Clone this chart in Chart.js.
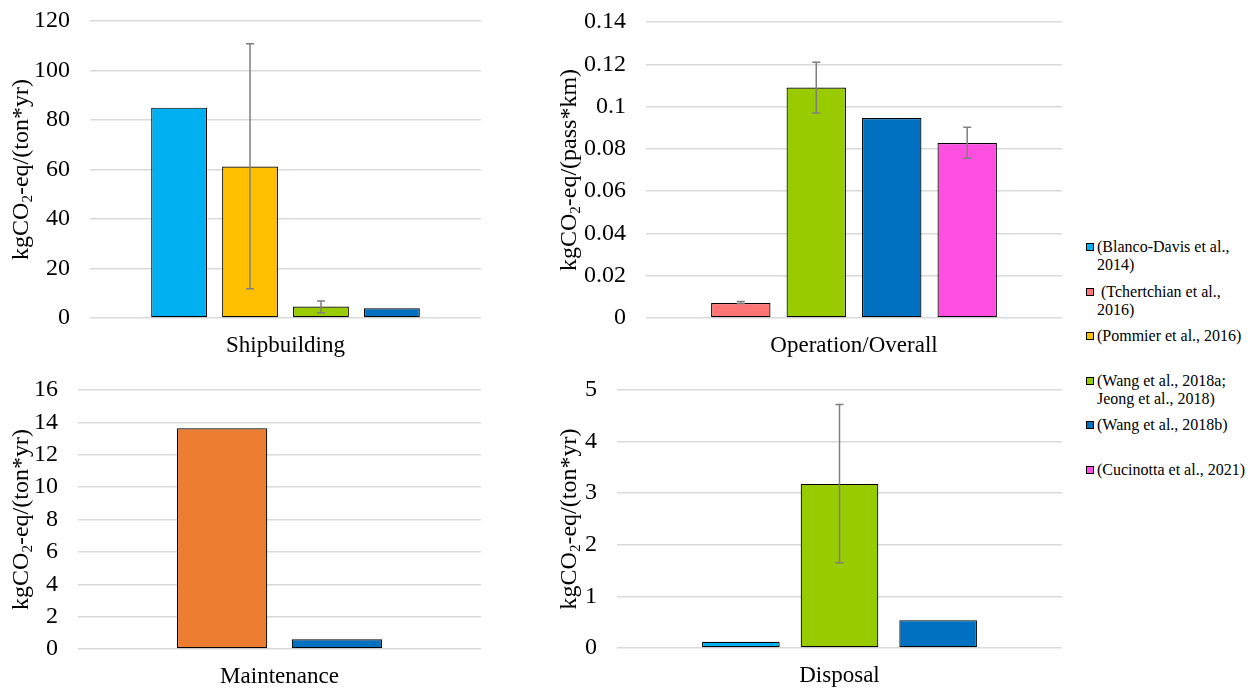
<!DOCTYPE html>
<html>
<head>
<meta charset="utf-8">
<script src="https://cdn.jsdelivr.net/npm/chart.js@4.4.1/dist/chart.umd.min.js"></script>
<style>
  html, body { margin: 0; padding: 0; background: #fff; }
  body { width: 1252px; height: 690px; position: relative; overflow: hidden;
         font-family: 'Liberation Serif', 'Times New Roman', serif; }
  .panel { position: absolute; }
  #legend { position: absolute; left: 1086px; top: 238px; width: 166px;
            font-size: 16px; line-height: 18px; color: #000; }
  .item { position: relative; height: 44.6px; padding-left: 11px; width: 152px; }
  .item i { position: absolute; left: 0; top: 5px; width: 6px; height: 6px; border: 1px solid #000; }
</style>
</head>
<body>
<div class="panel" id="p1" style="left:0;top:0;width:481px;height:362px"><canvas id="shipbuilding"></canvas></div>
<div class="panel" id="p2" style="left:554px;top:0;width:508px;height:362px"><canvas id="operation"></canvas></div>
<div class="panel" id="p3" style="left:0;top:362px;width:481px;height:328px"><canvas id="maintenance"></canvas></div>
<div class="panel" id="p4" style="left:554px;top:362px;width:508px;height:328px"><canvas id="disposal"></canvas></div>
<div id="legend"></div>

<script>
// studies shown in the legend
const legendLabels = [
  '(Blanco-Davis et al., 2014)',
  '\u00a0(Tchertchian et al., 2016)',
  '(Pommier et al., 2016)',
  '(Wang et al., 2018a; Jeong et al., 2018)',
  '(Wang et al., 2018b)',
  '(Cucinotta et al., 2021)',
];

const STUDY_COLORS = {
  '(Blanco-Davis et al., 2014)': '#00b0f0',
  '\u00a0(Tchertchian et al., 2016)': '#ff7575',
  '(Pommier et al., 2016)': '#ffc000',
  '(Wang et al., 2018a; Jeong et al., 2018)': '#99cc00',
  '(Wang et al., 2018b)': '#0070c0',
  '(Cucinotta et al., 2021)': '#ff4fe1',
  'Maintenance': '#ed7d31',
};

// Shipbuilding
const shipbuildingStudies = ['(Blanco-Davis et al., 2014)', '(Pommier et al., 2016)', '(Wang et al., 2018a; Jeong et al., 2018)', '(Wang et al., 2018b)'];
const shipbuildingValues  = [85.0, 61.2, 4.6, 3.9];
const shipbuildingErrLow  = [null, 11.8, 2.1, null];
const shipbuildingErrHigh = [null, 110.8, 6.9, null];
const shipbuildingTicks   = [0, 20, 40, 60, 80, 100, 120];

// Operation/Overall
const operationStudies = ['\u00a0(Tchertchian et al., 2016)', '(Wang et al., 2018a; Jeong et al., 2018)', '(Wang et al., 2018b)', '(Cucinotta et al., 2021)'];
const operationValues  = [0.0071, 0.109, 0.0946, 0.0828];
const operationErrLow  = [0.0068, 0.097, null, 0.0755];
const operationErrHigh = [0.0078, 0.121, null, 0.0902];
const operationTicks   = [0, 0.02, 0.04, 0.06, 0.08, 0.1, 0.12, 0.14];

// Maintenance
const maintenanceStudies = ['Maintenance', '(Wang et al., 2018b)'];
const maintenanceValues  = [13.63, 0.6];
const maintenanceErrLow  = [null, null];
const maintenanceErrHigh = [null, null];
const maintenanceTicks   = [0, 2, 4, 6, 8, 10, 12, 14, 16];

// Disposal
const disposalStudies = ['(Blanco-Davis et al., 2014)', '(Wang et al., 2018a; Jeong et al., 2018)', '(Wang et al., 2018b)'];
const disposalValues  = [0.12, 3.18, 0.54];
const disposalErrLow  = [null, 1.65, null];
const disposalErrHigh = [null, 4.72, null];
const disposalTicks   = [0, 1, 2, 3, 4, 5];

const FONT = "'Liberation Serif', 'Times New Roman', serif";

// grey whiskers drawn through the y scale
const errorBars = {
  id: 'errorBars',
  afterDatasetsDraw(chart) {
    const { ctx, scales: { y } } = chart;
    ctx.save();
    ctx.strokeStyle = '#7f7f7f';
    ctx.lineWidth = 1.5;
    chart.data.datasets.forEach((ds, i) => {
      if (ds.errLow == null) return;
      const x = chart.getDatasetMeta(i).data[0].x;
      const lo = y.getPixelForValue(ds.errLow);
      const hi = y.getPixelForValue(ds.errHigh);
      ctx.beginPath();
      ctx.moveTo(x, lo); ctx.lineTo(x, hi);
      ctx.moveTo(x - 4, lo); ctx.lineTo(x + 4, lo);
      ctx.moveTo(x - 4, hi); ctx.lineTo(x + 4, hi);
      ctx.stroke();
    });
    ctx.restore();
  }
};

// y title with a real subscript 2
const yTitle = {
  id: 'yTitle',
  afterDraw(chart, args, opts) {
    const { ctx, chartArea } = chart;
    const big = '24px ' + FONT, small = '15px ' + FONT;
    const parts = [['kgCO', big, 0], ['2', small, 6], [opts.unit, big, 0]];
    ctx.save();
    ctx.translate(opts.x, (chartArea.top + chartArea.bottom) / 2);
    ctx.rotate(-Math.PI / 2);
    ctx.fillStyle = '#000';
    ctx.textBaseline = 'middle';
    let total = 0;
    parts.forEach(p => { ctx.font = p[1]; total += ctx.measureText(p[0]).width; });
    let pos = -total / 2;
    parts.forEach(p => {
      ctx.font = p[1];
      ctx.fillText(p[0], pos, p[2]);
      pos += ctx.measureText(p[0]).width;
    });
    ctx.restore();
  }
};

function buildPanel(canvasId, category, studies, values, errLow, errHigh, ticks, unit, box) {
  const n = studies.length;
  new Chart(document.getElementById(canvasId), {
    type: 'bar',
    data: {
      labels: [category],
      datasets: studies.map((s, i) => ({
        label: s,
        data: [values[i]],
        errLow: errLow[i],
        errHigh: errHigh[i],
        backgroundColor: STUDY_COLORS[s],
        borderColor: '#000',
        borderWidth: 1.2,
        borderSkipped: false,
        barPercentage: 0.787,
        categoryPercentage: 1.27 * n / (1.27 * n + 1.92),
      }))
    },
    options: {
      responsive: true,
      maintainAspectRatio: false,
      animation: false,
      layout: { padding: { top: box.padTop, right: 0, bottom: 0, left: 0 } },
      plugins: {
        legend: { display: false },
        tooltip: { enabled: false },
        yTitle: { x: box.titleX, unit },
      },
      scales: {
        x: {
          grid: { display: false },
          border: { display: false },
          ticks: { color: '#000', font: { family: FONT, size: 23 }, padding: 6 },
          afterFit: s => { s.height = box.xHeight; },
        },
        y: {
          min: ticks[0],
          max: ticks[ticks.length - 1],
          afterBuildTicks: s => { s.ticks = ticks.map(v => ({ value: v })); },
          grid: { color: '#d9d9d9', lineWidth: 1.5, drawTicks: false },
          border: { display: false },
          ticks: { color: '#000', font: { family: FONT, size: 24 }, padding: 20,
                   callback: v => String(v) },
          afterFit: s => { s.width = box.yWidth; s.paddingTop = 0; s.paddingBottom = 0; },
        }
      }
    },
    plugins: [errorBars, yTitle]
  });
}

buildPanel('shipbuilding', 'Shipbuilding', shipbuildingStudies, shipbuildingValues,
  shipbuildingErrLow, shipbuildingErrHigh, shipbuildingTicks, '-eq/(ton*yr)',
  { padTop: 21, xHeight: 44, yWidth: 90, titleX: 22 });
buildPanel('operation', 'Operation/Overall', operationStudies, operationValues,
  operationErrLow, operationErrHigh, operationTicks, '-eq/(pass*km)',
  { padTop: 22, xHeight: 44, yWidth: 92, titleX: 16 });
buildPanel('maintenance', 'Maintenance', maintenanceStudies, maintenanceValues,
  maintenanceErrLow, maintenanceErrHigh, maintenanceTicks, '-eq/(ton*yr)',
  { padTop: 28, xHeight: 41, yWidth: 78, titleX: 22 });
buildPanel('disposal', 'Disposal', disposalStudies, disposalValues,
  disposalErrLow, disposalErrHigh, disposalTicks, '-eq/(ton*yr)',
  { padTop: 28, xHeight: 42, yWidth: 63, titleX: 16 });

// shared legend
const legendEl = document.getElementById('legend');
legendLabels.forEach(label => {
  const item = document.createElement('div');
  item.className = 'item';
  const sw = document.createElement('i');
  sw.style.background = STUDY_COLORS[label];
  item.appendChild(sw);
  item.appendChild(document.createTextNode(label));
  legendEl.appendChild(item);
});
</script>
</body>
</html>
